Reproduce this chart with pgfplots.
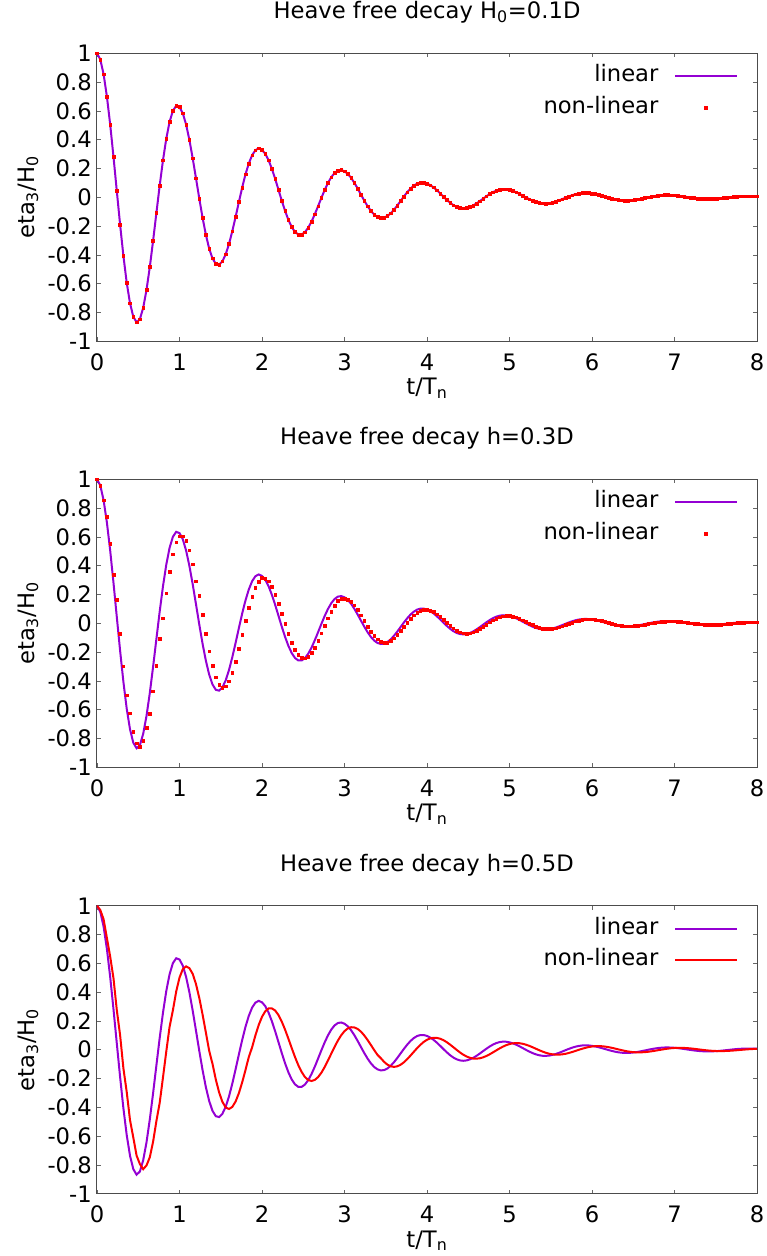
\documentclass[border=0pt]{standalone}
\usepackage{fontspec}
\setmainfont{DejaVu Sans}
\usepackage{pgfplots}
\usepackage{pgfplotstable}
\pgfplotsset{compat=1.18}
\definecolor{lincol}{RGB}{148,0,211}
\definecolor{nlcol}{RGB}{255,0,0}
\newcommand{\fs}{\fontsize{17}{20}\selectfont}

\pgfplotstableread{
t lin nl2 nl3
0.00 1.0000 1.0000 1.0000
0.04 0.9576 0.9573 0.9702
0.08 0.8552 0.8545 0.9062
0.12 0.7004 0.7407 0.7764
0.16 0.5046 0.5544 0.6461
0.20 0.2810 0.3372 0.4958
0.24 0.0445 0.1621 0.2757
0.28 -0.1894 -0.0731 0.1016
0.32 -0.4060 -0.2982 -0.1287
0.36 -0.5917 -0.4988 -0.2919
0.40 -0.7354 -0.6240 -0.4878
0.44 -0.8289 -0.7537 -0.6094
0.48 -0.8675 -0.8323 -0.7351
0.52 -0.8457 -0.8560 -0.7940
0.56 -0.7671 -0.8174 -0.8292
0.60 -0.6433 -0.7275 -0.8036
0.64 -0.4841 -0.6281 -0.7467
0.68 -0.3015 -0.4721 -0.6387
0.72 -0.1083 -0.2937 -0.4952
0.76 0.0823 -0.1054 -0.3685
0.80 0.2581 0.0343 -0.1913
0.84 0.4085 0.2084 -0.0111
0.88 0.5248 0.3598 0.1602
0.92 0.6014 0.4798 0.2743
0.96 0.6353 0.5623 0.4042
1.00 0.6267 0.6040 0.5008
1.04 0.5839 0.6054 0.5596
1.08 0.5058 0.5735 0.5789
1.12 0.3989 0.5065 0.5665
1.16 0.2714 0.4102 0.5270
1.20 0.1323 0.2920 0.4559
1.24 -0.0087 0.1931 0.3589
1.28 -0.1424 0.0585 0.2438
1.32 -0.2606 -0.0733 0.1187
1.36 -0.3562 -0.1941 -0.0078
1.40 -0.4242 -0.2965 -0.0978
1.44 -0.4615 -0.3748 -0.2064
1.48 -0.4675 -0.4249 -0.2959
1.52 -0.4446 -0.4454 -0.3617
1.56 -0.3959 -0.4370 -0.4005
1.60 -0.3243 -0.4026 -0.4115
1.64 -0.2354 -0.3441 -0.3971
1.68 -0.1356 -0.2666 -0.3596
1.72 -0.0320 -0.1761 -0.3011
1.76 0.0684 -0.0790 -0.2261
1.80 0.1594 0.0179 -0.1406
1.84 0.2354 0.1083 -0.0504
1.88 0.2923 0.1867 0.0164
1.92 0.3273 0.2486 0.0995
1.96 0.3396 0.2909 0.1716
2.00 0.3293 0.3165 0.2286
2.04 0.3025 0.3117 0.2676
2.08 0.2574 0.2912 0.2871
2.12 0.1977 0.2530 0.2870
2.16 0.1277 0.2001 0.2722
2.20 0.0523 0.1366 0.2407
2.24 -0.0234 0.0668 0.1952
2.28 -0.0945 -0.0044 0.1392
2.32 -0.1566 -0.0724 0.0767
2.36 -0.2061 -0.1331 0.0120
2.40 -0.2403 -0.1826 -0.0505
2.44 -0.2577 -0.2184 -0.1070
2.48 -0.2580 -0.2387 -0.1540
2.52 -0.2420 -0.2429 -0.1889
2.56 -0.2115 -0.2313 -0.2101
2.60 -0.1689 -0.2055 -0.2169
2.64 -0.1176 -0.1680 -0.2094
2.68 -0.0611 -0.1216 -0.1899
2.72 -0.0036 -0.0699 -0.1592
2.76 0.0514 -0.0165 -0.1197
2.80 0.1003 0.0351 -0.0745
2.84 0.1402 0.0814 -0.0268
2.88 0.1691 0.1199 0.0203
2.92 0.1856 0.1550 0.0637
2.96 0.1893 0.1694 0.1008
3.00 0.1807 0.1721 0.1294
3.04 0.1630 0.1657 0.1482
3.08 0.1356 0.1497 0.1564
3.12 0.1006 0.1248 0.1547
3.16 0.0606 0.0927 0.1444
3.20 0.0184 0.0560 0.1254
3.24 -0.0232 0.0171 0.0991
3.28 -0.0616 -0.0215 0.0676
3.32 -0.0944 -0.0572 0.0331
3.36 -0.1197 -0.0879 -0.0022
3.40 -0.1363 -0.1117 -0.0358
3.44 -0.1435 -0.1275 -0.0583
3.48 -0.1412 -0.1345 -0.0841
3.52 -0.1300 -0.1326 -0.1033
3.56 -0.1113 -0.1220 -0.1150
3.60 -0.0863 -0.1042 -0.1190
3.64 -0.0571 -0.0806 -0.1151
3.68 -0.0256 -0.0532 -0.1041
3.72 0.0058 -0.0238 -0.0870
3.76 0.0352 0.0054 -0.0653
3.80 0.0608 0.0326 -0.0405
3.84 0.0811 0.0561 -0.0145
3.88 0.0951 0.0746 0.0110
3.92 0.1022 0.0871 0.0343
3.96 0.1023 0.0933 0.0541
4.00 0.0958 0.0930 0.0692
4.04 0.0848 0.0882 0.0789
4.08 0.0688 0.0781 0.0829
4.12 0.0490 0.0633 0.0820
4.16 0.0270 0.0452 0.0765
4.20 0.0042 0.0249 0.0663
4.24 -0.0178 0.0039 0.0523
4.28 -0.0377 -0.0164 0.0356
4.32 -0.0544 -0.0348 0.0174
4.36 -0.0667 -0.0501 -0.0011
4.40 -0.0742 -0.0614 -0.0188
4.44 -0.0767 -0.0684 -0.0344
4.48 -0.0741 -0.0706 -0.0470
4.52 -0.0670 -0.0684 -0.0561
4.56 -0.0563 -0.0620 -0.0611
4.60 -0.0424 -0.0520 -0.0620
4.64 -0.0264 -0.0392 -0.0592
4.68 -0.0095 -0.0244 -0.0528
4.72 0.0072 -0.0088 -0.0433
4.76 0.0227 0.0067 -0.0315
4.80 0.0360 0.0209 -0.0182
4.84 0.0463 0.0331 -0.0043
4.88 0.0531 0.0426 0.0092
4.92 0.0562 0.0488 0.0215
4.96 0.0555 0.0516 0.0318
5.00 0.0513 0.0509 0.0396
5.04 0.0446 0.0475 0.0445
5.08 0.0352 0.0413 0.0463
5.12 0.0240 0.0326 0.0452
5.16 0.0118 0.0223 0.0414
5.20 -0.0008 0.0109 0.0351
5.24 -0.0127 -0.0007 0.0269
5.28 -0.0234 -0.0118 0.0173
5.32 -0.0320 -0.0217 0.0071
5.36 -0.0383 -0.0297 -0.0032
5.40 -0.0418 -0.0355 -0.0127
5.44 -0.0425 -0.0388 -0.0210
5.48 -0.0405 -0.0395 -0.0275
5.52 -0.0360 -0.0376 -0.0319
5.56 -0.0295 -0.0335 -0.0341
5.60 -0.0214 -0.0274 -0.0340
5.64 -0.0123 -0.0199 -0.0319
5.68 -0.0029 -0.0115 -0.0279
5.72 0.0062 -0.0027 -0.0223
5.76 0.0144 0.0058 -0.0156
5.80 0.0213 0.0135 -0.0081
5.84 0.0264 0.0199 -0.0005
5.88 0.0296 0.0247 0.0068
5.92 0.0307 0.0276 0.0133
5.96 0.0297 0.0286 0.0187
6.00 0.0269 0.0278 0.0225
6.04 0.0228 0.0254 0.0248
6.08 0.0175 0.0215 0.0253
6.12 0.0112 0.0164 0.0243
6.16 0.0046 0.0106 0.0218
6.20 -0.0020 0.0043 0.0181
6.24 -0.0082 -0.0019 0.0134
6.28 -0.0136 -0.0077 0.0080
6.32 -0.0178 -0.0127 0.0024
6.36 -0.0207 -0.0166 -0.0030
6.40 -0.0220 -0.0192 -0.0080
6.44 -0.0219 -0.0204 -0.0123
6.48 -0.0205 -0.0203 -0.0155
6.52 -0.0178 -0.0190 -0.0175
6.56 -0.0142 -0.0165 -0.0183
6.60 -0.0099 -0.0132 -0.0179
6.64 -0.0051 -0.0092 -0.0165
6.68 -0.0003 -0.0048 -0.0142
6.72 0.0043 -0.0003 -0.0110
6.76 0.0084 0.0040 -0.0073
6.80 0.0118 0.0077 -0.0033
6.84 0.0142 0.0108 0.0007
6.88 0.0156 0.0130 0.0045
6.92 0.0159 0.0142 0.0078
6.96 0.0152 0.0145 0.0104
7.00 0.0135 0.0137 0.0122
7.04 0.0112 0.0124 0.0132
7.08 0.0083 0.0102 0.0132
7.12 0.0050 0.0076 0.0124
7.16 0.0015 0.0045 0.0109
7.20 -0.0019 0.0014 0.0088
7.24 -0.0051 -0.0017 0.0063
7.28 -0.0077 -0.0045 0.0034
7.32 -0.0098 -0.0069 0.0005
7.36 -0.0111 -0.0087 -0.0022
7.40 -0.0117 -0.0099 -0.0047
7.44 -0.0114 -0.0103 -0.0067
7.48 -0.0105 -0.0101 -0.0082
7.52 -0.0090 -0.0093 -0.0091
7.56 -0.0070 -0.0079 -0.0093
7.60 -0.0046 -0.0062 -0.0089
7.64 -0.0021 -0.0041 -0.0081
7.68 0.0005 -0.0018 -0.0068
7.72 0.0029 0.0004 -0.0051
7.76 0.0050 0.0025 -0.0032
7.80 0.0067 0.0043 -0.0011
7.84 0.0078 0.0058 0.0009
7.88 0.0084 0.0067 0.0027
7.92 0.0085 0.0072 0.0043
7.96 0.0080 0.0072 0.0055
8.00 0.0070 0.0068 0.0063
}\data

\pgfplotsset{
  panel/.style={
    scale only axis, width=495pt, height=216pt,
    xmin=0, xmax=8, ymin=-1, ymax=1,
    xtick={0,1,2,3,4,5,6,7,8},
    xticklabels={0,1,2,3,4,5,6,7,8},
    ytick={-1,-0.8,-0.6,-0.4,-0.2,0,0.2,0.4,0.6,0.8,1},
    yticklabels={-1,-0.8,-0.6,-0.4,-0.2,0,0.2,0.4,0.6,0.8,1},
    tick align=inside, major tick length=3pt,
    axis line style={draw=black!70, line width=0.75pt},
    tick style={draw=black!60, line width=0.6pt},
    tick label style={font=\fs},
    yticklabel style={inner sep=0pt, xshift=-3.75pt},
    xticklabel style={inner sep=0pt, yshift=-9pt},
    xlabel={t/T\textsubscript{n}},
    ylabel={eta\textsubscript{3}/H\textsubscript{0}},
    label style={font=\fs},
    xlabel style={at={(axis description cs:0.5,0)}, anchor=north, inner sep=0pt, yshift=-27.5pt},
    ylabel style={at={(axis description cs:0,0.5)}, anchor=base, inner sep=0pt, yshift=47pt},
    title style={font=\fs, at={(axis description cs:0.5,1)}, anchor=base, inner sep=0pt, yshift=20pt},
    legend style={draw=none, fill=none, font=\fs,
      at={(axis description cs:1,1)}, anchor=north east,
      xshift=-14.25pt, yshift=-9pt, inner sep=0pt,
      nodes={inner sep=0pt, text height=12pt, text depth=4pt},
      row sep=7.8pt, column sep=12pt},
    legend cell align=right, legend plot pos=right,
  },
  linstyle/.style={lincol, line width=1.5pt,
    legend image code/.code={\draw[##1] (0pt,0pt) -- (46pt,0pt);}},
  nlline/.style={nlcol, line width=1.5pt,
    legend image code/.code={\draw[##1] (0pt,0pt) -- (46pt,0pt);}},
  nldots/.style={nlcol, only marks, mark=square*, mark size=1pt,
    legend image code/.code={\draw[##1] plot coordinates {(23pt,0pt)};}},
}

\begin{document}
\begin{tikzpicture}
\useasboundingbox (0,0) rectangle (575.25pt,-942pt);

\begin{axis}[panel, at={(72.75pt,-40pt)}, anchor=north west,
  title={Heave free decay H\textsubscript{0}=0.1D}]
\addplot[linstyle] table[x=t, y=lin]{\data};
\addlegendentry{linear}
\addplot[nldots] table[x=t, y=lin]{\data};
\addlegendentry{non-linear}
\end{axis}

\begin{axis}[panel, at={(72.75pt,-359.5pt)}, anchor=north west,
  title={Heave free decay h=0.3D}]
\addplot[linstyle] table[x=t, y=lin]{\data};
\addlegendentry{linear}
\addplot[nldots] table[x=t, y=nl2]{\data};
\addlegendentry{non-linear}
\end{axis}

\begin{axis}[panel, at={(72.75pt,-679.3pt)}, anchor=north west,
  title={Heave free decay h=0.5D}]
\addplot[linstyle] table[x=t, y=lin]{\data};
\addlegendentry{linear}
\addplot[nlline] table[x=t, y=nl3]{\data};
\addlegendentry{non-linear}
\end{axis}
\end{tikzpicture}
\end{document}
